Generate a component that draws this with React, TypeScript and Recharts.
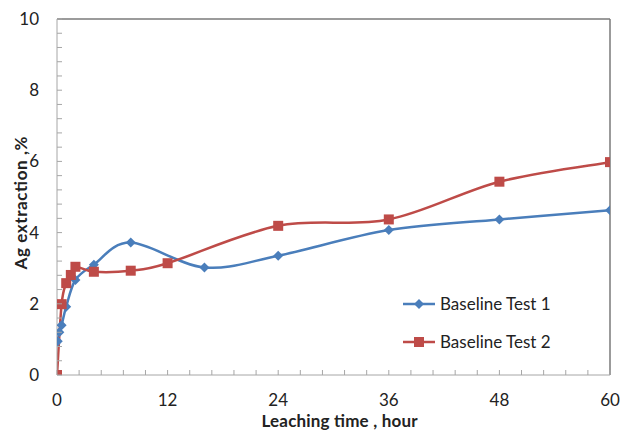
import React from "react";
import {
  LineChart,
  Line,
  XAxis,
  YAxis,
  ReferenceLine,
} from "recharts";

// Baseline Test 1
const test1Hours = [0.08, 0.25, 0.5, 1, 2, 4, 8, 16, 24, 36, 48, 60];
const test1Ag = [0.95, 1.2, 1.4, 1.92, 2.67, 3.1, 3.72, 3.02, 3.35, 4.07, 4.37, 4.63];

// Baseline Test 2
const test2Hours = [0, 0.5, 1, 1.5, 2, 4, 8, 12, 24, 36, 48, 60];
const test2Ag = [0, 1.99, 2.58, 2.81, 3.04, 2.9, 2.93, 3.14, 4.19, 4.37, 5.43, 5.98];

const xMajor = [0, 12, 24, 36, 48, 60];
const xTicks = [
  0, 2.4, 4.8, 7.2, 9.6, 12, 14.4, 16.8, 19.2, 21.6, 24, 26.4, 28.8, 31.2, 33.6,
  36, 38.4, 40.8, 43.2, 45.6, 48, 50.4, 52.8, 55.2, 57.6, 60,
];
const yMajor = [0, 2, 4, 6, 8, 10];
const yTicks = [
  0, 0.4, 0.8, 1.2, 1.6, 2, 2.4, 2.8, 3.2, 3.6, 4, 4.4, 4.8, 5.2, 5.6, 6, 6.4,
  6.8, 7.2, 7.6, 8, 8.4, 8.8, 9.2, 9.6, 10,
];

const data1 = test1Hours.map((x, i) => ({ x, y: test1Ag[i] }));
const data2 = test2Hours.map((x, i) => ({ x, y: test2Ag[i] }));

const BLUE = "#4a7ebb";
const RED = "#be4b48";
const FONT = "Lato, 'Open Sans', sans-serif";

// excel style smoothed line (catmull-rom like)
const smoothCurve = (context: any) => {
  let pts: number[][] = [];
  return {
    areaStart() {},
    areaEnd() {},
    lineStart() {
      pts = [];
    },
    point(x: number, y: number) {
      pts.push([+x, +y]);
    },
    lineEnd() {
      if (!pts.length) return;
      context.moveTo(pts[0][0], pts[0][1]);
      for (let i = 0; i < pts.length - 1; i++) {
        const p0 = pts[i - 1] || pts[i];
        const p1 = pts[i];
        const p2 = pts[i + 1];
        const p3 = pts[i + 2] || p2;
        context.bezierCurveTo(
          p1[0] + (p2[0] - p0[0]) / 6,
          p1[1] + (p2[1] - p0[1]) / 6,
          p2[0] - (p3[0] - p1[0]) / 6,
          p2[1] - (p3[1] - p1[1]) / 6,
          p2[0],
          p2[1]
        );
      }
    },
  };
};

const Diamond = (props: any) => {
  const { cx, cy } = props;
  if (cx == null || cy == null) return null;
  const r = 5;
  return (
    <polygon
      points={`${cx},${cy - r} ${cx + r},${cy} ${cx},${cy + r} ${cx - r},${cy}`}
      fill={BLUE}
    />
  );
};

const Square = (props: any) => {
  const { cx, cy } = props;
  if (cx == null || cy == null) return null;
  return <rect x={cx - 5} y={cy - 5} width={10} height={10} fill={RED} />;
};

const XTick = (props: any) => {
  const { x, y, payload } = props;
  const v = payload.value;
  const major = xMajor.some((m) => Math.abs(m - v) < 0.01);
  return (
    <g>
      <line x1={x} y1={y} x2={x} y2={y - 5} stroke="#a6a6a6" />
      {major && (
        <text x={x} y={y + 31} textAnchor="middle" fontSize={17} fill="#222" fontFamily={FONT}>
          {Math.round(v)}
        </text>
      )}
    </g>
  );
};

const YTick = (props: any) => {
  const { x, y, payload } = props;
  const v = payload.value;
  const major = yMajor.some((m) => Math.abs(m - v) < 0.01);
  return (
    <g>
      <line x1={x} y1={y} x2={x + 5} y2={y} stroke="#a6a6a6" />
      {major && (
        <text x={x - 18} y={y + 6} textAnchor="end" fontSize={17} fill="#222" fontFamily={FONT}>
          {Math.round(v)}
        </text>
      )}
    </g>
  );
};

const YTitle = (props: any) => {
  const { viewBox } = props;
  const cx = 12;
  const cy = viewBox.y + viewBox.height / 2 + 6;
  return (
    <text
      x={cx}
      y={cy}
      transform={`rotate(-90 ${cx} ${cy})`}
      textAnchor="middle"
      dominantBaseline="central"
      fontSize={17}
      fontWeight="bold"
      fill="#222"
      fontFamily={FONT}
      textLength={133}
      lengthAdjust="spacing"
    >
      Ag extraction ,%
    </text>
  );
};

const XTitle = (props: any) => {
  const { viewBox } = props;
  const cx = viewBox.x + viewBox.width / 2 + 6;
  return (
    <text
      x={cx}
      y={419}
      textAnchor="middle"
      fontSize={17}
      fontWeight="bold"
      fill="#222"
      fontFamily={FONT}
      textLength={156}
      lengthAdjust="spacing"
    >
      Leaching time , hour
    </text>
  );
};

const LegendBox = () => (
  <svg
    width={200}
    height={70}
    style={{ position: "absolute", left: 390, top: 284 }}
  >
    <line x1={5} y1={12} x2={37} y2={12} stroke={BLUE} strokeWidth={2.5} />
    <polygon points="21,7 26,12 21,17 16,12" fill={BLUE} />
    <text x={42} y={18} fontSize={17} fill="#222" fontFamily={FONT}>
      Baseline Test 1
    </text>
    <line x1={5} y1={50} x2={37} y2={50} stroke={RED} strokeWidth={2.5} />
    <rect x={16} y={45} width={10} height={10} fill={RED} />
    <text x={42} y={56} fontSize={17} fill="#222" fontFamily={FONT}>
      Baseline Test 2
    </text>
  </svg>
);

const App = () => {
  return (
    <div style={{ position: "relative", width: 622, height: 423 }}>
      <LineChart
        width={622}
        height={423}
        margin={{ top: 11, right: 20, left: 0, bottom: 0 }}
      >
        <XAxis
          type="number"
          dataKey="x"
          domain={[0, 60]}
          ticks={xTicks}
          interval={0}
          height={56}
          tickSize={0}
          tickMargin={0}
          tickLine={false}
          tick={<XTick />}
          axisLine={{ stroke: "#a6a6a6" }}
          label={<XTitle />}
          allowDataOverflow
        />
        <YAxis
          type="number"
          dataKey="y"
          domain={[0, 10]}
          ticks={yTicks}
          interval={0}
          width={49}
          tickSize={0}
          tickMargin={0}
          tickLine={false}
          tick={<YTick />}
          axisLine={{ stroke: "#a6a6a6" }}
          label={<YTitle />}
          allowDataOverflow
        />
        <ReferenceLine y={10} stroke="#7a7a7a" strokeWidth={1.5} />
        <ReferenceLine x={60} stroke="#7a7a7a" strokeWidth={1.5} />
        <Line
          data={data1}
          dataKey="y"
          type={smoothCurve as any}
          stroke={BLUE}
          strokeWidth={2.5}
          dot={<Diamond />}
          activeDot={false}
          isAnimationActive={false}
        />
        <Line
          data={data2}
          dataKey="y"
          type={smoothCurve as any}
          stroke={RED}
          strokeWidth={2.5}
          dot={<Square />}
          activeDot={false}
          isAnimationActive={false}
        />
      </LineChart>
      <LegendBox />
    </div>
  );
};

export default App;
